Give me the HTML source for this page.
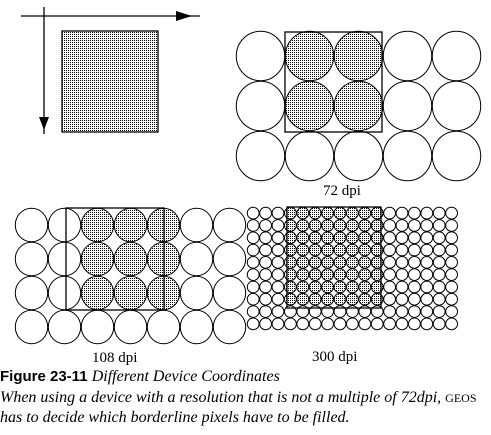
<!DOCTYPE html>
<html><head><meta charset="utf-8"><style>
html,body{margin:0;padding:0;background:#fff;width:491px;height:435px;overflow:hidden}
svg{position:absolute;left:0;top:0}
.cap{position:absolute;left:0;white-space:nowrap;color:#000}
</style></head><body>
<svg id="fig" width="491" height="435">
<defs><pattern id="dots" width="2" height="2" patternUnits="userSpaceOnUse"><rect x="0" y="0" width="1" height="1" fill="#000"/></pattern></defs>
<g>
<line x1="21" y1="16" x2="200" y2="16" stroke="#000" stroke-width="1.3"/>
<polygon points="176,11 192,16 176,21" fill="#000"/>
<line x1="44" y1="7" x2="44" y2="134" stroke="#000" stroke-width="1.3"/>
<polygon points="39,117 44,130 49,117" fill="#000"/>
<rect x="62" y="31" width="96" height="101" fill="url(#dots)" stroke="#000" stroke-width="1.3"/>
</g>
<g id="grids"></g>
<text x="323" y="195" font-family="Liberation Serif, serif" font-size="15">72 dpi</text>
<text x="92" y="362" font-family="Liberation Serif, serif" font-size="15">108 dpi</text>
<text x="312" y="361" font-family="Liberation Serif, serif" font-size="15">300 dpi</text>
</svg>
<div class="cap" style="top:368px;font:15px 'Liberation Sans',sans-serif"><b>Figure 23-11</b> <i style="font-family:'Liberation Serif',serif;font-size:16px">Different Device Coordinates</i></div>
<div class="cap" style="top:388px;font:italic 16px 'Liberation Serif',serif;line-height:19px">When using a device with a resolution that is not a multiple of 72dpi, <span style="font-style:normal;font-size:12px">GEOS</span><br>has to decide which borderline pixels have to be filled.</div>
<script>
const gridNames=['grid-72dpi','grid-108dpi','grid-300dpi'];
const gridCols=[5,7,17];
const gridRows=[3,4,10];
const filledCols=[[1,2],[2,4],[3,10]];
const filledRows=[[0,1],[0,2],[0,7]];
const geom=[{x:236,y:31,cw:49,ch:50,rect:[285,32,97,100]},{x:15,y:208,cw:33,ch:34,rect:[66,208,98,102]},{x:247,y:207,cw:12.4,ch:12.3,rect:[287,207,94,101]}];
const NS='http://www.w3.org/2000/svg';
const root=document.getElementById('grids');
gridNames.forEach((n,i)=>{
  const g=document.createElementNS(NS,'g');
  
  
  const G=geom[i];
  for(let r=0;r<gridRows[i];r++)for(let c=0;c<gridCols[i];c++){
    const e=document.createElementNS(NS,'ellipse');
    
    
    const f=c>=filledCols[i][0]&&c<=filledCols[i][1]&&r>=filledRows[i][0]&&r<=filledRows[i][1];
    e.setAttribute('cx',G.x+G.cw*(c+0.5));e.setAttribute('cy',G.y+G.ch*(r+0.5));
    e.setAttribute('rx',G.cw/2-0.3);e.setAttribute('ry',G.ch/2-0.3);
    e.setAttribute('fill',f?'url(#dots)':'none');e.setAttribute('stroke','#000');e.setAttribute('stroke-width','1');
    g.appendChild(e);
  }
  const rc=document.createElementNS(NS,'rect');
  
  
  rc.setAttribute('x',G.rect[0]);rc.setAttribute('y',G.rect[1]);rc.setAttribute('width',G.rect[2]);rc.setAttribute('height',G.rect[3]);
  rc.setAttribute('fill','none');rc.setAttribute('stroke','#000');rc.setAttribute('stroke-width','1.3');
  g.appendChild(rc);
  root.appendChild(g);
});
</script>
</body></html>
